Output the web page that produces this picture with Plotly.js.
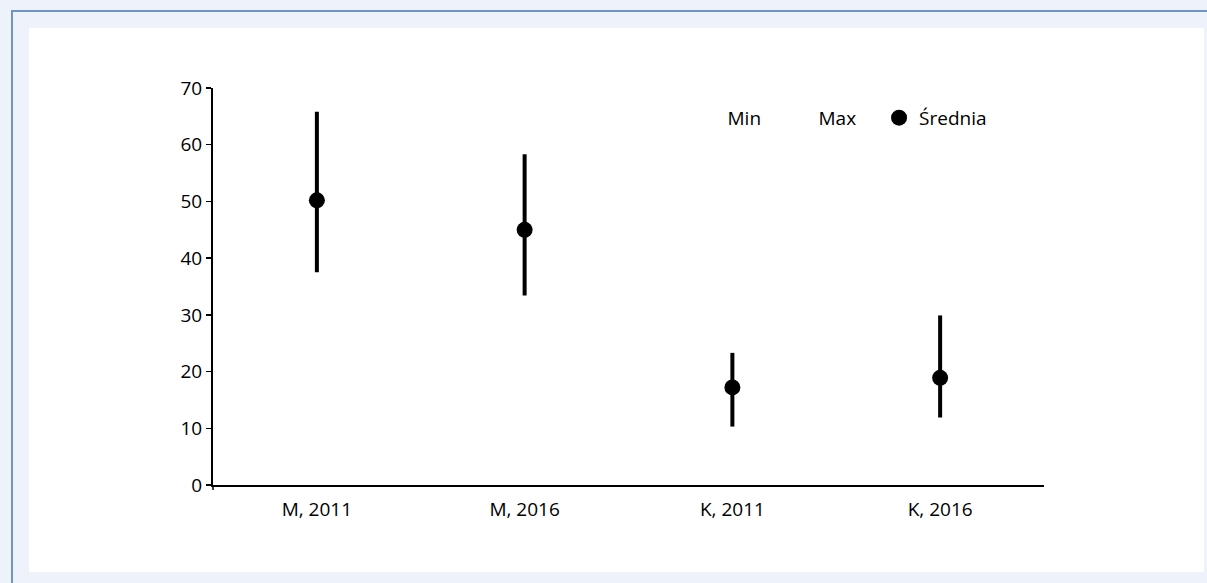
<!DOCTYPE html>
<html>
<head>
<meta charset="utf-8">
<script src="https://cdn.plot.ly/plotly-3.0.1.min.js"></script>
<style>
  html, body { margin: 0; padding: 0; width: 1207px; height: 583px; overflow: hidden; background: #eef2fa; }
  #frame { position: absolute; left: 11px; top: 10px; width: 1196px; height: 573px;
           border-left: 2px solid #6f95c8; border-top: 2px solid #6f95c8; box-sizing: border-box; background: #eef2fa; }
  #panel { position: absolute; left: 29px; top: 28px; width: 1175px; height: 544px; background: #ffffff; }
  #chart { position: absolute; left: 0; top: 0; width: 1207px; height: 583px; }
</style>
</head>
<body>
<div id="frame"></div>
<div id="panel"></div>
<div id="chart"></div>
<script>
const categories = ["M, 2011", "M, 2016", "K, 2011", "K, 2016"];
const minValues  = [37.5, 33.4, 10.3, 11.9];
const maxValues  = [65.8, 58.3, 23.3, 29.9];
const meanValues = [50.2, 45.0, 17.2, 18.9];
const yTicks = [0, 10, 20, 30, 40, 50, 60, 70];

const fontFamily = '"Open Sans", "Noto Sans", sans-serif';

const traces = [
  {
    type: 'scatter', mode: 'markers', name: 'Min', legend: 'legend',
    x: categories, y: minValues,
    marker: { color: 'rgba(0,0,0,0)', size: 16 },
    hoverinfo: 'skip'
  },
  {
    type: 'scatter', mode: 'markers', name: 'Max', legend: 'legend2',
    x: categories, y: maxValues,
    marker: { color: 'rgba(0,0,0,0)', size: 16 },
    hoverinfo: 'skip'
  },
  {
    type: 'scatter', mode: 'markers', name: 'Średnia', legend: 'legend3',
    x: categories, y: meanValues,
    marker: { color: '#000000', size: 16 },
    error_y: {
      type: 'data', symmetric: false,
      array: maxValues.map((v, i) => v - meanValues[i]),
      arrayminus: meanValues.map((v, i) => v - minValues[i]),
      thickness: 4, width: 0, color: '#000000'
    }
  }
];

function legendAt(x) {
  return {
    orientation: 'h', x: x, xanchor: 'left', y: 0.925, yanchor: 'middle',
    bgcolor: 'rgba(0,0,0,0)', font: { family: fontFamily, size: 19, color: '#000000' }
  };
}

const layout = {
  width: 1207, height: 583,
  paper_bgcolor: 'rgba(0,0,0,0)',
  plot_bgcolor: 'rgba(0,0,0,0)',
  margin: { l: 213, r: 163, t: 88, b: 98, pad: 0 },
  font: { family: fontFamily, size: 19, color: '#000000' },
  showlegend: true,
  legend: legendAt(0.571),
  legend2: legendAt(0.6805),
  legend3: legendAt(0.8015),
  xaxis: {
    type: 'category', range: [-0.5, 3.5],
    showline: true, linecolor: '#000000', linewidth: 2,
    ticks: '', showgrid: false, zeroline: false,
    tickfont: { family: fontFamily, size: 19 },
    ticklabelstandoff: 6
  },
  yaxis: {
    range: [0, 70], tickvals: yTicks, ticktext: yTicks.map(String),
    showline: true, linecolor: '#000000', linewidth: 2,
    ticks: 'outside', ticklen: 5, tickwidth: 1.5, tickcolor: '#000000',
    showgrid: false, zeroline: false,
    tickfont: { family: fontFamily, size: 19 }
  },
  shapes: [
    { type: 'line', xref: 'paper', yref: 'paper', x0: 0, x1: 0, y0: 0, y1: -0.0126,
      line: { color: '#000000', width: 1.5 } }
  ]
};

Plotly.newPlot('chart', traces, layout, { staticPlot: true, displayModeBar: false });
</script>
</body>
</html>
